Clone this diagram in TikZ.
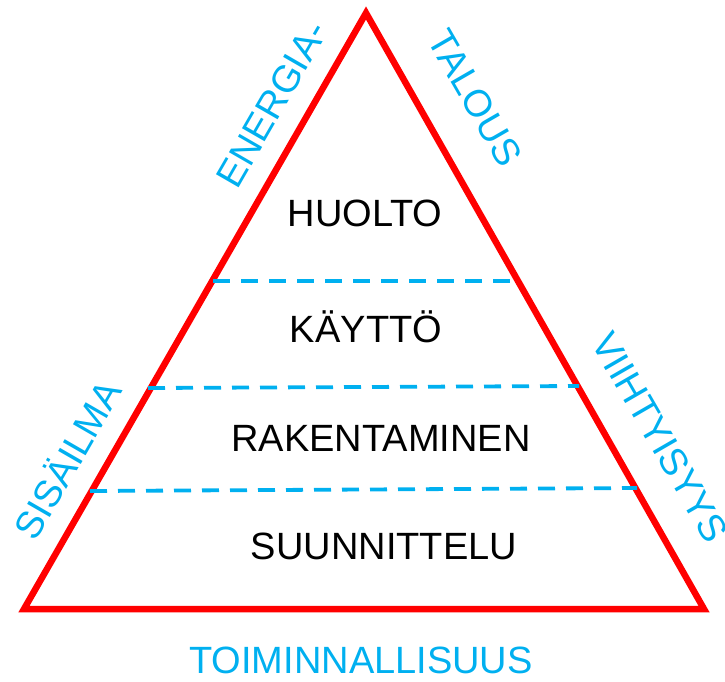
\documentclass[tikz,border=0pt]{standalone}
\usepackage{fontspec}
\setmainfont{Liberation Sans}
\begin{document}
\begin{tikzpicture}[x=1pt,y=-1pt,
  edge/.style={draw=pyred,line width=6.5pt,line join=miter},
  level/.style={draw=pycyan,line width=3.8pt,dash pattern=on 17pt off 11pt},
  layer/.style={font=\fontsize{38}{38}\selectfont,text=black,inner sep=0pt},
  aspect/.style={font=\fontsize{38}{38}\selectfont,text=pycyan,inner sep=0pt}]
\definecolor{pyred}{HTML}{FF0000}
\definecolor{pycyan}{HTML}{00B0F0}
\useasboundingbox (0,0) rectangle (725,681);
% corners of the triangle
\coordinate (top) at (366,13);
\coordinate (bl) at (24,609);
\coordinate (br) at (704,609);
\draw[edge] (top) -- (bl) -- (br) -- cycle;
% dashed level separators
\coordinate (l1) at (213,281); \coordinate (r1) at (514,281);
\coordinate (l2) at (148,388); \coordinate (r2) at (579,386);
\coordinate (l3) at (90,491);  \coordinate (r3) at (637,488);
\draw[level] (l1) -- (r1);
\draw[level] (l2) -- (r2);
\draw[level] (l3) -- (r3);
% layers
\node[layer] (huolto) at (365,213) {HUOLTO};
\node[layer] (kaytto) at (366,327) {KÄYTTÖ};
\node[layer] (rak) at (381,438) {RAKENTAMINEN};
\node[layer] (suun) at (384,546) {SUUNNITTELU};
% aspects around the triangle
\node[aspect,rotate=60] (energia) at (272,104) {ENERGIA-};
\node[aspect,rotate=-60] (talous) at (475,98) {TALOUS};
\node[aspect,rotate=60] (sisailma) at (66,459) {SISÄILMA};
\node[aspect,rotate=-60] (viihty) at (660,437) {VIIHTYISYYS};
\node[aspect] (toim) at (361,660) {TOIMINNALLISUUS};
\end{tikzpicture}
\end{document}
